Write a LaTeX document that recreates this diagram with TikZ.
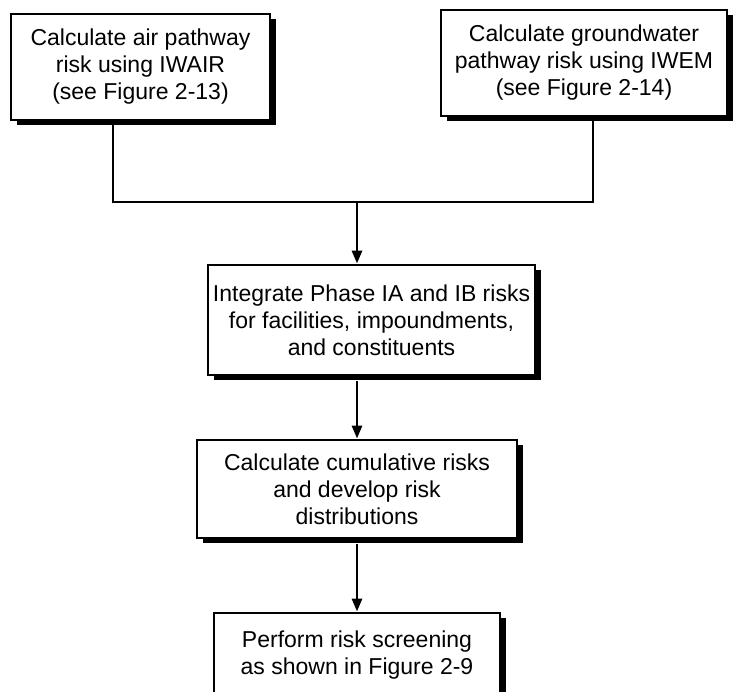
\documentclass[tikz,border=0pt]{standalone}
\usepackage{fontspec}
\setmainfont{Liberation Sans}
\usetikzlibrary{arrows.meta,shadows}
\begin{document}
\begin{tikzpicture}[x=1pt,y=1pt,
  box/.style={draw=black, line width=2.8pt, fill=white, align=center,
    inner sep=0pt, font=\fontsize{23}{27}\selectfont,
    drop shadow={shadow xshift=5.5pt, shadow yshift=-5.5pt, fill=black, opacity=1}},
  conn/.style={line width=2.8pt},
  arr/.style={conn, -{Triangle[length=13pt,width=10pt]}}]
\useasboundingbox (0,0) rectangle (740,-692);
\clip (0,0) rectangle (740,-692);
\node[box, minimum width=259pt, minimum height=106pt] (b1) at (140.5,-67)
  {Calculate air pathway\\risk using IWAIR\\(see Figure 2-13)};
\node[box, minimum width=286pt, minimum height=106pt] (b2) at (584,-63)
  {Calculate groundwater\\pathway risk using IWEM\\(see Figure 2-14)};
\node[box, minimum width=327pt, minimum height=110pt] (b3) at (371.5,-320)
  {Integrate Phase IA and IB risks\\for facilities, impoundments,\\and constituents};
\node[box, minimum width=320pt, minimum height=98pt] (b4) at (357,-489)
  {Calculate cumulative risks\\and develop risk\\distributions};
\node[box, minimum width=286pt, minimum height=110pt, text depth=30pt] (b5) at (357,-668)
  {Perform risk screening\\as shown in Figure 2-9};
\coordinate (j1) at (113,-202);
\coordinate (j2) at (593,-202);
\coordinate (jm) at (357,-202);
\draw[conn] (b1.south -| j1) -- (j1) -- (j2) -- (b2.south -| j2);
\draw[arr] (jm) -- (b3.north -| jm);
\draw[arr] ([yshift=-5pt]b3.south -| b4.north) -- (b4.north);
\draw[arr] ([yshift=-5pt]b4.south) -- (b5.north);
\end{tikzpicture}
\end{document}
